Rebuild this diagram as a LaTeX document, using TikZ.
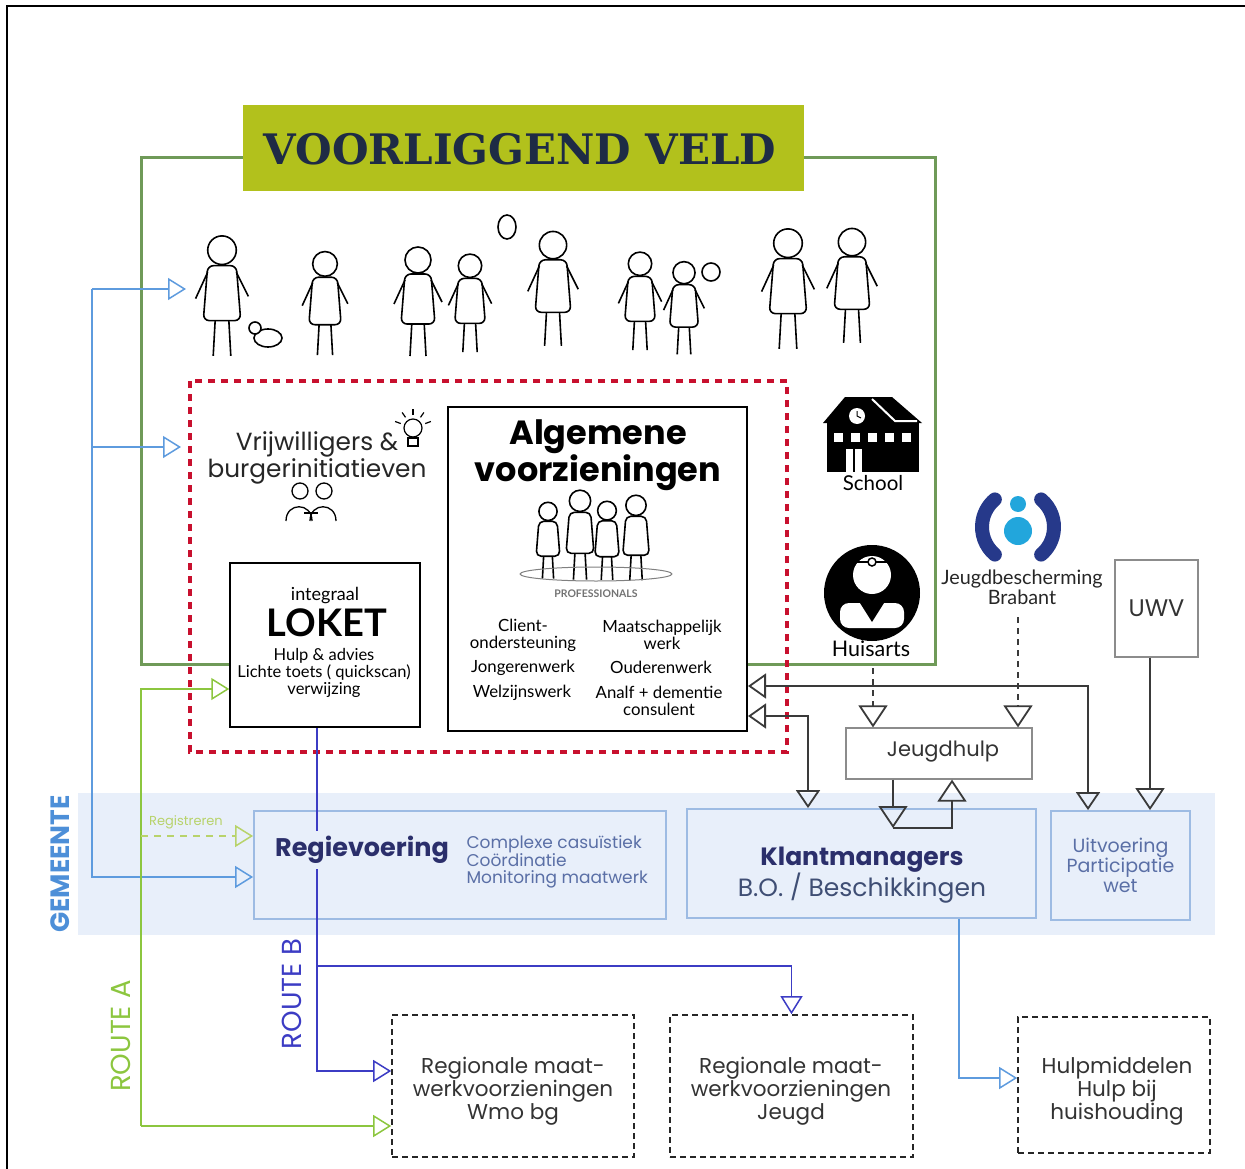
\documentclass[tikz,border=0pt]{standalone}
\usepackage{fontspec}
\setmainfont{Lato}
\newfontfamily\mont{Poppins}
\newfontfamily\slab{DejaVu Serif}
\usetikzlibrary{arrows.meta,positioning,calc}

\definecolor{kopgroen}{HTML}{B2C11C}
\definecolor{kopblauw}{HTML}{1E2B45}
\definecolor{kadergroen}{HTML}{6F9A58}
\definecolor{stiprood}{HTML}{C8102E}
\definecolor{band}{HTML}{E8EFFA}
\definecolor{randblauw}{HTML}{9DBBE3}
\definecolor{gemblauw}{HTML}{4D8FD8}
\definecolor{donkerblauw}{HTML}{2B2F6B}
\definecolor{grijsblauw}{HTML}{5A6FA6}
\definecolor{lijnblauw}{HTML}{5E9BDE}
\definecolor{routegroen}{HTML}{8CC63F}
\definecolor{regigroen}{HTML}{B8D36B}
\definecolor{routepaars}{HTML}{3C3CC4}
\definecolor{lijngrijs}{HTML}{3A3A3A}
\definecolor{jbbblauw}{HTML}{26398A}
\definecolor{jbblicht}{HTML}{22A6DC}

\tikzset{
  pkop/.tip={Triangle[open,length=18pt,width=22pt]},
  gkop/.tip={Triangle[open,length=22pt,width=29pt]},
  pijl/.style={line width=1.5pt,-pkop},
  grotepijl/.style={line width=1.8pt,-gkop},
  dubbelpijl/.style={line width=1.8pt,{Triangle[open,length=18pt,width=25pt]}-{Triangle[open,length=18pt,width=24pt]}},
  gembox/.style={draw=randblauw,line width=1.8pt,fill=band},
  regiobox/.style={draw=black!85,line width=1.6pt,dash pattern=on 6pt off 4pt,fill=white},
  regiotekst/.style={align=center,font=\mont\fontsize{21.5}{21}\selectfont,text=black!80},
  grijsbox/.style={draw=black!45,line width=1.2pt,fill=white,font=\mont\fontsize{21}{21}\selectfont,text=black!80},
  persoon/.style={draw=black,line width=1.6pt,fill=white},
  itemtekst/.style={align=center,font=\fontsize{16.8}{17}\selectfont},
}

\begin{document}
\begin{tikzpicture}[x=1pt,y=-1pt]
\useasboundingbox (0,0) rectangle (1245,1169);
% kader
\draw[line width=2pt] (7,1169) -- (7,6) -- (1245,6);
\fill[band] (78,793) rectangle (1215,935);
\node[rotate=90,font=\mont\bfseries\fontsize{26.5}{26}\selectfont,text=gemblauw] (gemeente) at (60,864) {GEMEENTE};

% voorliggend veld
\draw[kadergroen,line width=3pt] (230,664) -- (141,664) -- (141,158) -- (935,158) -- (935,664) -- (747,664);
\node[fill=kopgroen,minimum width=561pt,minimum height=86pt,text=kopblauw,
  font=\slab\bfseries\fontsize{42}{42}\selectfont] (kop) at (523.5,148) {};
\node[text=kopblauw,font=\slab\bfseries\fontsize{42}{42}\selectfont] (koptekst) at (520,149) {VOORLIGGEND VELD};

% mensen
\foreach \px/\py/\s in {222/292/1.1, 325/300/0.95, 418/298/1, 470/300/0.9, 553/285/1.05, 640/298/0.9, 684/305/0.85, 788/285/1.1, 852/282/1.05}{
  \draw[persoon] ({\px-6*\s},{\py+22*\s}) -- ({\px-8*\s},{\py+58*\s});
  \draw[persoon] ({\px+6*\s},{\py+22*\s}) -- ({\px+8*\s},{\py+58*\s});
  \draw[persoon,rounded corners=6pt] ({\px-13*\s},{\py-24*\s}) -- ({\px+13*\s},{\py-24*\s}) -- ({\px+17*\s},{\py+26*\s}) -- ({\px-17*\s},{\py+26*\s}) -- cycle;
  \draw[persoon] (\px,{\py-38*\s}) circle ({13*\s});
  \draw[persoon] ({\px-13*\s},{\py-18*\s}) -- ({\px-24*\s},{\py+6*\s});
  \draw[persoon] ({\px+13*\s},{\py-18*\s}) -- ({\px+24*\s},{\py+4*\s});
}
\draw[persoon] (268,338) ellipse (14 and 9);
\draw[persoon] (255,328) circle (6);
\draw[persoon] (507,227) ellipse (9 and 12);
\draw[persoon] (711,272) circle (9);

% schoolgebouw
\fill (823,423) -- (845,397) -- (892,397) -- (922,423) -- cycle;
\fill (827,421) rectangle (919,472);
\draw[white,line width=2pt] (872,399) -- (895,421) -- (917,421);
\foreach \wx in {834,851,868,885,902} \fill[white] (\wx,433) rectangle ++(9,9);
\fill[white] (846,449) rectangle (862,472);
\draw[line width=1.5pt] (854,449) -- (854,472);
\fill[white] (857,416) circle (8);
\draw[line width=1pt] (857,411) -- (857,416) -- (861,418);
\node[font=\fontsize{20.5}{20}\selectfont] (school) at (873,483) {School};

% huisarts
\fill (872,593) circle (48);
\fill[white,rounded corners=9pt] (840,603) rectangle (904,628);
\fill (860,603) -- (884,603) -- (872,622) -- cycle;
\fill[white] (872,575) circle (19);
\draw[line width=2pt] (853,562) -- (891,562);
\draw[fill=white,line width=1.5pt] (872,562) circle (4);
\node[font=\fontsize{21.5}{20}\selectfont] (huisarts) at (871,649) {Huisarts};
\coordinate (huisvoet) at (873,668);

% jeugdbescherming
\draw[jbbblauw,line width=14pt,line cap=round] (1018,527) ++(130:36) arc (130:230:36);
\draw[jbbblauw,line width=14pt,line cap=round] (1018,527) ++(-50:36) arc (-50:50:36);
\fill[jbblicht] (1018,504) circle (8);
\fill[jbblicht] (1018,531) circle (14);
\node[align=center,font=\fontsize{19.8}{20}\selectfont,text=black!85] (jbb) at (1022,587) {Jeugdbescherming\\Brabant};
\coordinate (jbbvoet) at (1018,617);

\node[grijsbox,minimum width=83pt,minimum height=97pt,font=\mont\fontsize{24}{24}\selectfont] (uwv) at (1156.5,608.5) {UWV};

% rode kader
\draw[stiprood,line width=4pt,dash pattern=on 7pt off 6pt] (190,381) rectangle (787,752);

% vrijwilligers
\node[align=center,font=\mont\fontsize{24.8}{25}\selectfont,text=black!85] (vrijw) at (317,458) {Vrijwilligers \&\\burgerinitiatieven};
\draw[line width=1.2pt] (413,428) circle (9);
\draw[line width=1.2pt] (408,438) rectangle (418,446);
\foreach \a in {-160,-125,-90,-55,-20} \draw[line width=1.2pt] (413,428) ++(\a:13) -- ++(\a:6);
\draw[line width=1.3pt] (300,491) circle (8);
\draw[line width=1.3pt] (324,491) circle (8);
\draw[line width=1.3pt] (286,521) .. controls (286,502) and (312,502) .. (312,521);
\draw[line width=1.3pt] (310,521) .. controls (310,502) and (336,502) .. (336,521);
\draw[line width=1.3pt] (304,513) -- (318,513);

% loket
\node[draw,line width=1.5pt,fill=white,minimum width=190pt,minimum height=164pt] (loket) at (325,645) {};
\node[font=\fontsize{18}{17}\selectfont] at (325,596) {integraal};
\node[font=\bfseries\fontsize{38}{36}\selectfont] at (327,623) {LOKET};
\node[align=center,font=\fontsize{16.5}{17}\selectfont] at (324,673) {Hulp \& advies\\Lichte toets ( quickscan)\\verwijzing};

% algemene voorzieningen
\node[draw,line width=2pt,fill=white,minimum width=299pt,minimum height=324pt] (alg) at (597.5,569) {};
\node[align=center,font=\mont\bfseries\fontsize{33.5}{32}\selectfont] (algtitel) at (598,455) {Algemene\\voorzieningen};
\foreach \px/\py/\s in {548/538/0.7, 580/532/0.82, 607/538/0.72, 636/535/0.78}{
  \draw[persoon] ({\px-6*\s},{\py+22*\s}) -- ({\px-8*\s},{\py+58*\s});
  \draw[persoon] ({\px+6*\s},{\py+22*\s}) -- ({\px+8*\s},{\py+58*\s});
  \draw[persoon,rounded corners=5pt] ({\px-13*\s},{\py-24*\s}) -- ({\px+13*\s},{\py-24*\s}) -- ({\px+17*\s},{\py+26*\s}) -- ({\px-17*\s},{\py+26*\s}) -- cycle;
  \draw[persoon] (\px,{\py-38*\s}) circle ({13*\s});
}
\draw[black!50,line width=1pt] (596,574) ellipse (76 and 7);
\node[font=\bfseries\fontsize{10.5}{10}\selectfont,text=black!55] at (596,594) {PROFESSIONALS};
\node[itemtekst] at (523,635) {Client-\\ondersteuning};
\node[itemtekst] at (523,668) {Jongerenwerk};
\node[itemtekst] at (522,693) {Welzijnswerk};
\node[itemtekst] at (662,635) {Maatschappelijk\\werk};
\node[itemtekst] at (661,667) {Ouderenwerk};
\node[itemtekst] at (659,701) {Analf + dementie\\consulent};

% gemeente
\node[gembox,minimum width=412pt,minimum height=108pt] (regie) at (460,865) {};
\node[gembox,minimum width=349pt,minimum height=109pt] (klant) at (861.5,863.5) {};
\node[gembox,minimum width=139pt,minimum height=109pt,align=center,text=grijsblauw,
  font=\mont\fontsize{19}{20}\selectfont] (uitv) at (1120.5,865.5) {Uitvoering\\Participatie\\wet};
\node[grijsbox,minimum width=186pt,minimum height=51pt] (jeugdhulp) at (939,753.5) {};
\node[font=\mont\fontsize{21}{21}\selectfont,text=black!80] at (943,752) {Jeugdhulp};

% regionaal
\node[regiobox,minimum width=242pt,minimum height=142pt] (regio1) at (513,1086) {};
\node[regiobox,minimum width=243pt,minimum height=142pt] (regio2) at (791.5,1086) {};
\node[regiobox,minimum width=192pt,minimum height=136pt] (hulpm) at (1114,1085) {};
\node[regiotekst] at (513,1091) {Regionale maat-\\werkvoorzieningen\\Wmo bg};
\node[regiotekst] at (791,1091) {Regionale maat-\\werkvoorzieningen\\Jeugd};
\node[regiotekst] at (1117,1091) {Hulpmiddelen\\Hulp bij\\huishouding};

% blauwe lijnen
\coordinate (bl) at (92,289);
\coordinate (mensen) at (186,289);
\coordinate (vrijwin) at (181,447);
\draw[lijnblauw,pijl] (bl) -- (mensen);
\draw[lijnblauw,pijl] (bl |- vrijwin) -- (vrijwin);
\draw[lijnblauw,pijl] (bl) |- (regie.west |- 0,877);
\draw[lijnblauw,pijl] (klant.south -| 959,0) |- (hulpm.west |- 0,1078);

% route A
\coordinate (ra) at (141,1126);
\draw[routegroen,pijl] (ra) |- (loket.west |- 0,689);
\draw[routegroen,pijl] (ra) -- (regio1.west |- ra);
\draw[regigroen,pijl,dash pattern=on 7pt off 6pt] (141,836) -- (regie.west |- 0,836);
\node[font=\mont\fontsize{13}{13}\selectfont,text=regigroen] (registreren) at (186,822) {Registreren};
\node[rotate=90,font=\mont\fontsize{27.5}{26}\selectfont,text=routegroen] (routea) at (121,1036) {ROUTE A};

% route B
\coordinate (rb) at (317,1071);
\draw[routepaars,pijl] (loket.south -| rb) -- (rb) -- (regio1.west |- rb);
\draw[routepaars,pijl] (rb |- 0,966) -| (regio2.north);
\node[rotate=90,font=\mont\fontsize{27.5}{26}\selectfont,text=routepaars] (routeb) at (292,994) {ROUTE B};

% grijze lijnen
\draw[lijngrijs,grotepijl,dash pattern=on 6pt off 5pt] (huisvoet) -- (huisvoet |- jeugdhulp.north);
\draw[lijngrijs,grotepijl,dash pattern=on 6pt off 5pt] (jbbvoet) -- (jbbvoet |- jeugdhulp.north);
\draw[lijngrijs,dubbelpijl] (alg.east |- 0,686) -| (uitv.north -| 1088,0);
\draw[lijngrijs,dubbelpijl] (alg.east |- 0,716) -| (klant.north -| 808,0);
\draw[lijngrijs,grotepijl] (uwv.south -| 1150,0) -- (uitv.north -| 1150,0);
\coordinate (jhin) at (893,828);
\draw[lijngrijs,grotepijl] (jeugdhulp.south -| jhin) -- (jhin);
\draw[lijngrijs,grotepijl] (jhin) -| (jeugdhulp.south -| 952,0);

% teksten gemeente
\node[fill=band,inner sep=1pt,inner ysep=5pt,font=\mont\bfseries\fontsize{25.5}{24}\selectfont,text=donkerblauw] (regietitel) at (362,850) {Regievoering};
\node[anchor=west,align=left,font=\mont\fontsize{17}{17}\selectfont,text=grijsblauw] (regietekst) at (463,862) {Complexe casuïstiek\\Coördinatie\\Monitoring maatwerk};
\node[align=center,font=\mont\fontsize{25}{26}\selectfont,text=grijsblauw!70!black] (klanttekst) at (862,875) {{\color{donkerblauw}\bfseries Klantmanagers}\\B.O. / Beschikkingen};
\end{tikzpicture}
\end{document}
